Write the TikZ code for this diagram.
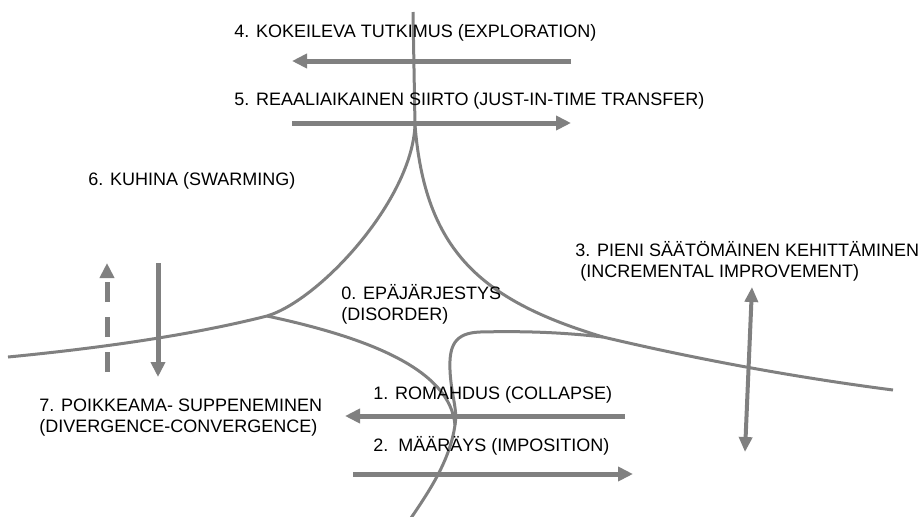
\documentclass[tikz,border=0pt]{standalone}
\usepackage{fontspec}
\setmainfont{Liberation Sans}
\usetikzlibrary{arrows.meta}
\definecolor{linegray}{RGB}{128,128,128}
\begin{document}
\begin{tikzpicture}[x=0.5pt, y=-0.5pt, every node/.style = {inner sep=0pt, anchor=west, align=left, font=\fontsize{9}{10.5}\selectfont}]
	\tikzstyle{boundary} = [draw=linegray, line width=1.5pt]
	\tikzstyle{flow} = [draw=linegray, line width=2.5pt, -{Triangle[length=7.5pt, width=7pt]}]
	\tikzstyle{twoway} = [draw=linegray, line width=2pt, {Triangle[length=7.5pt, width=6.5pt]}-{Triangle[length=7.5pt, width=6.5pt]}]
	\useasboundingbox (0,0) rectangle (923,516);
	\coordinate (top) at (413,12);
	\coordinate (split) at (415,125);
	\coordinate (leftcusp) at (267,316);
	\coordinate (rightcusp) at (603,337);
	\coordinate (leftend) at (8,357);
	\coordinate (rightend) at (893,390);
	\coordinate (merge) at (455,425);
	\coordinate (bottom) at (411,518);
	\draw[boundary] (top) -- (split);
	\draw[boundary] (split) .. controls (412,200) and (320,300) .. (leftcusp) .. controls (180,338) and (80,350) .. (leftend);
	\draw[boundary] (split) .. controls (425,250) and (480,300) .. (rightcusp) .. controls (700,360) and (800,378) .. (rightend);
	\draw[boundary] (rightcusp) .. controls (560,332) and (520,331) .. (480,332) .. controls (455,333) and (449,345) .. (450,370) .. controls (451,395) and (458,410) .. (merge) .. controls (450,460) and (430,490) .. (bottom);
	\draw[boundary] (leftcusp) .. controls (370,338) and (450,370) .. (merge);
	\node (explore) at (234,32.7) {4. KOKEILEVA TUTKIMUS (EXPLORATION)};
	\node (transfer) at (234,100.7) {5. REAALIAIKAINEN SIIRTO (JUST-IN-TIME TRANSFER)};
	\node (swarm) at (88,180.7) {6. KUHINA (SWARMING)};
	\node (improve) at (575,261.7) {3. PIENI SÄÄTÖMÄINEN KEHITTÄMINEN\\\hspace*{2.5pt}(INCREMENTAL IMPROVEMENT)};
	\node (disorder) at (341,304.7) {0. EPÄJÄRJESTYS\\(DISORDER)};
	\node (divconv) at (39,418) {7. POIKKEAMA- SUPPENEMINEN\\(DIVERGENCE-CONVERGENCE)};
	\node (collapse) at (373,394.7) {1. ROMAHDUS (COLLAPSE)};
	\node (impose) at (373,445.7) {2.\ \ MÄÄRÄYS (IMPOSITION)};
	\coordinate (exploreA) at (571,61);
	\coordinate (exploreB) at (292,61);
	\coordinate (transferA) at (292,123);
	\coordinate (transferB) at (571,123);
	\coordinate (collapseA) at (625,416);
	\coordinate (collapseB) at (345,416);
	\coordinate (imposeA) at (353,474);
	\coordinate (imposeB) at (633,474);
	\coordinate (divA) at (107,372);
	\coordinate (divB) at (107,263);
	\coordinate (convA) at (158,263);
	\coordinate (convB) at (158,377);
	\coordinate (improveA) at (752,287);
	\coordinate (improveB) at (745,452);
	\draw[flow] (exploreA) -- (exploreB);
	\draw[flow] (transferA) -- (transferB);
	\draw[flow] (collapseA) -- (collapseB);
	\draw[flow] (imposeA) -- (imposeB);
	\draw[flow, dash pattern=on 10pt off 7.5pt] (divA) -- (divB);
	\draw[flow] (convA) -- (convB);
	\draw[twoway] (improveA) -- (improveB);
\end{tikzpicture}
\end{document}
